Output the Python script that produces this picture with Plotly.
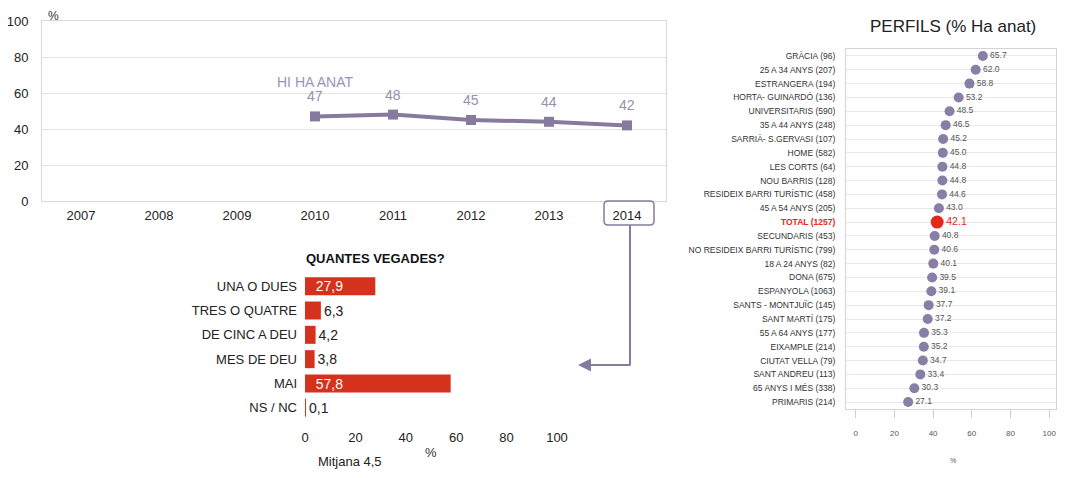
import plotly.graph_objects as go

OFF = 8  # page body margin of the exported html
W, H = 1066 - OFF, 478 - 2 * OFF
FONT = "Liberation Sans, Arial, sans-serif"

# ---- data ----
years = ["2007", "2008", "2009", "2010", "2011", "2012", "2013", "2014"]
anat_years = ["2010", "2011", "2012", "2013", "2014"]
anat_values = [47, 48, 45, 44, 42]

freq_cats = ["UNA O DUES", "TRES O QUATRE", "DE CINC A DEU", "MES DE DEU", "MAI", "NS / NC"]
freq_values = [27.9, 6.3, 4.2, 3.8, 57.8, 0.1]

prof_cats = ["GRÀCIA (96)", "25 A 34 ANYS (207)", "ESTRANGERA (194)", "HORTA- GUINARDÓ (136)",
             "UNIVERSITARIS (590)", "35 A 44 ANYS (248)", "SARRIÀ- S.GERVASI (107)", "HOME (582)",
             "LES CORTS (64)", "NOU BARRIS (128)", "RESIDEIX BARRI TURÍSTIC (458)", "45 A 54 ANYS (205)",
             "TOTAL (1257)", "SECUNDARIS (453)", "NO RESIDEIX BARRI TURÍSTIC (799)", "18 A 24 ANYS (82)",
             "DONA (675)", "ESPANYOLA (1063)", "SANTS - MONTJUÏC (145)", "SANT MARTÍ (175)",
             "55 A 64 ANYS (177)", "EIXAMPLE (214)", "CIUTAT VELLA (79)", "SANT ANDREU (113)",
             "65 ANYS I MÉS (338)", "PRIMARIS (214)"]
prof_values = [65.7, 62.0, 58.8, 53.2, 48.5, 46.5, 45.2, 45.0, 44.8, 44.8, 44.6, 43.0, 42.1,
               40.8, 40.6, 40.1, 39.5, 39.1, 37.7, 37.2, 35.3, 35.2, 34.7, 33.4, 30.3, 27.1]
total_label = "TOTAL (1257)"

PURPLE = "#867b9f"
RED = "#d4321c"
TOTAL_RED = "#e3281c"


def px(x):
    return (x - OFF) / W


def py(y):
    return 1 - (y - OFF) / H


def note(x, y, text, size, color, xanchor="center", bold=False):
    return dict(x=px(x), y=py(y), xref="paper", yref="paper", xanchor=xanchor, yanchor="middle",
                text=f"<b>{text}</b>" if bold else text, showarrow=False, borderpad=0,
                font=dict(family=FONT, size=size, color=color))


fig = go.Figure()

# ---- line chart ----
anat_idx = [years.index(y) for y in anat_years]
fig.add_trace(go.Scatter(
    x=anat_idx, y=anat_values, mode="lines+markers",
    line=dict(color=PURPLE, width=4),
    marker=dict(symbol="square", size=10, color=PURPLE, opacity=1),
    xaxis="x", yaxis="y", showlegend=False, hoverinfo="skip"))

annotations = []
for i, v in zip(anat_idx, anat_values):
    annotations.append(dict(x=i, y=v, xref="x", yref="y", text=str(v), showarrow=False,
                            yshift=20, font=dict(family=FONT, size=14, color="#958fad")))
annotations.append(dict(x=years.index("2010"), y=66, xref="x", yref="y", text="HI HA ANAT",
                        showarrow=False, font=dict(family=FONT, size=14, color="#9a92bb")))
annotations.append(note(53, 16, "%", 12, "#333"))

# ---- bar chart ----
text_pos = ["inside" if v > 20 else "outside" for v in freq_values]
text_col = ["white" if v > 20 else "#222" for v in freq_values]
bar_text = [("  " if v > 20 else "") + f"{v:.1f}".replace(".", ",") for v in freq_values]
fig.add_trace(go.Bar(
    x=freq_values, y=freq_cats, orientation="h", xaxis="x2", yaxis="y2",
    marker=dict(color=RED, line=dict(width=0)),
    text=bar_text, textposition=text_pos, insidetextanchor="start",
    textfont=dict(family=FONT, size=14, color=text_col), cliponaxis=False,
    showlegend=False, hoverinfo="skip"))

annotations.append(note(305, 258, "QUANTES VEGADES?", 13, "#111", xanchor="left", bold=True))
annotations.append(note(431, 452, "%", 13, "#333"))
annotations.append(note(350, 461, "Mitjana 4,5", 13, "#222"))

# ---- profiles dot chart ----
dot_colors = [TOTAL_RED if c == total_label else "#887ea6" for c in prof_cats]
dot_sizes = [13 if c == total_label else 10 for c in prof_cats]
dot_text_col = [TOTAL_RED if c == total_label else "#555" for c in prof_cats]
dot_text_size = [10.5 if c == total_label else 8.5 for c in prof_cats]
fig.add_trace(go.Scatter(
    x=prof_values, y=prof_cats, mode="markers+text", xaxis="x3", yaxis="y3",
    marker=dict(color=dot_colors, size=dot_sizes, opacity=1, line=dict(width=0)),
    text=[f"{v:.1f}" for v in prof_values], textposition="middle right",
    textfont=dict(family=FONT, size=dot_text_size, color=dot_text_col),
    showlegend=False, hoverinfo="skip", cliponaxis=False))

prof_ticktext = [f"<span style='color:{TOTAL_RED}'><b>{c}</b></span>" if c == total_label else c
                 for c in prof_cats]

annotations.append(note(953, 27, "PERFILS (% Ha anat)", 17, "#222"))
annotations.append(note(953, 460, "%", 7, "#555"))

# arrow from 2014 box to bar chart
annotations.append(dict(x=px(578), y=py(365), xref="paper", yref="paper", ax=54, ay=0,
                        axref="pixel", ayref="pixel", text="", showarrow=True,
                        arrowhead=2, arrowsize=1.3, arrowwidth=2, arrowcolor=PURPLE))

# rounded box around 2014 + vertical connector
x0, x1, y0, y1, r = px(604), px(654), py(201), py(225), 4
rx, ry = r / W, r / H
box_path = (f"M {x0+rx},{y0} L {x1-rx},{y0} Q {x1},{y0} {x1},{y0-ry} L {x1},{y1+ry} "
            f"Q {x1},{y1} {x1-rx},{y1} L {x0+rx},{y1} Q {x0},{y1} {x0},{y1+ry} "
            f"L {x0},{y0-ry} Q {x0},{y0} {x0+rx},{y0} Z")
shapes = [
    dict(type="path", path=box_path, xref="paper", yref="paper",
         line=dict(color=PURPLE, width=1.5)),
    dict(type="line", x0=px(630), x1=px(630), y0=py(225), y1=py(365), xref="paper", yref="paper",
         line=dict(color=PURPLE, width=2)),
]

fig.update_layout(
    width=W, height=H, margin=dict(l=0, r=0, t=0, b=0, autoexpand=False),
    paper_bgcolor="white", plot_bgcolor="white",
    font=dict(family=FONT, color="#222"),
    bargap=0.26,
    uniformtext=dict(minsize=14, mode="show"),
    annotations=annotations, shapes=shapes,
    xaxis=dict(domain=[px(42), px(666)], tickvals=list(range(len(years))), ticktext=years,
               range=[-0.5, 7.5], showgrid=False, showline=True, automargin=False,
               mirror=True, linecolor="#d9d9d9", ticks="", zeroline=False,
               tickfont=dict(size=13, color="#222"), ticklabelstandoff=2, anchor="y"),
    yaxis=dict(domain=[py(201), py(21)], range=[0, 100], tickvals=[0, 20, 40, 60, 80, 100],
               showgrid=True, gridcolor="#e3e3e3", showline=True, mirror=True, automargin=False,
               linecolor="#d9d9d9", zeroline=False, ticks="", anchor="x",
               tickfont=dict(size=13, color="#222"), ticklabelstandoff=10),
    xaxis2=dict(domain=[px(305), px(557)], range=[0, 100], tickvals=[0, 20, 40, 60, 80, 100],
                showgrid=False, showline=False, zeroline=False, ticks="", automargin=False,
                tickfont=dict(size=13, color="#222"), ticklabelstandoff=8, anchor="y2"),
    yaxis2=dict(domain=[py(420), py(274)], range=[5.5, -0.5], showgrid=False, automargin=False,
                showline=False, zeroline=False, ticks="", anchor="x2",
                tickfont=dict(size=13, color="#222"), ticklabelstandoff=7),
    xaxis3=dict(domain=[px(846), px(1056)], range=[-5, 103.5], tickvals=[0, 20, 40, 60, 80, 100],
                showgrid=False, showline=True, mirror=True, linecolor="#d4d4d4", zeroline=False,
                ticks="outside", ticklen=8, tickcolor="#cfcfcf", anchor="y3", automargin=False,
                ticklabeloverflow="allow",
                tickfont=dict(size=8, color="#555"), ticklabelstandoff=8),
    yaxis3=dict(domain=[py(409), py(49)], range=[len(prof_cats) - 0.5, -0.5], type="category",
                tickvals=prof_cats, ticktext=prof_ticktext, automargin=False,
                showgrid=True, gridcolor="#e8e8e8", showline=True, mirror=True,
                linecolor="#d4d4d4", zeroline=False, ticks="", anchor="x3",
                tickfont=dict(size=8.5, color="#333"), ticklabelstandoff=8),
)

fig.write_html("out.html")
